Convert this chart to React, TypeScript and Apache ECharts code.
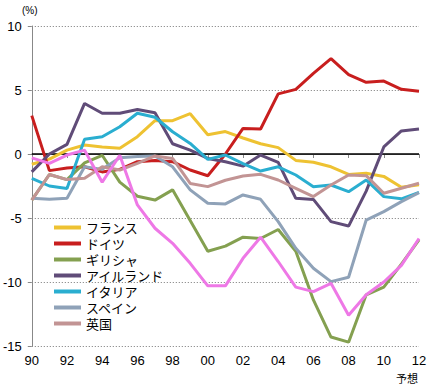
import React, { useEffect, useRef } from "react";
import * as echarts from "echarts";

const years = ["90","91","92","93","94","95","96","97","98","99","00","01","02","03","04","05","06","07","08","09","10","11","12"];

const france = [-0.8,-0.4,0.3,0.7,0.55,0.45,1.35,2.6,2.6,3.15,1.5,1.75,1.25,0.8,0.5,-0.5,-0.65,-1.0,-1.6,-1.5,-1.75,-2.6,-2.4];
const germany = [3.0,-1.3,-1.1,-1.0,-1.4,-1.2,-0.6,-0.5,-0.6,-1.25,-1.7,0.0,2.0,1.95,4.7,5.05,6.3,7.45,6.2,5.6,5.7,5.05,4.9];
const greece = [-3.6,-1.6,-2.0,-0.7,-0.1,-2.2,-3.3,-3.6,-2.8,-5.2,-7.6,-7.2,-6.5,-6.6,-5.9,-7.6,-11.4,-14.3,-14.7,-11.0,-10.4,-8.6,-6.7];
const ireland = [-1.4,0.0,0.75,3.95,3.18,3.18,3.48,3.23,0.8,0.3,-0.35,-0.6,-0.95,-0.08,-0.65,-3.46,-3.55,-5.28,-5.63,-2.9,0.55,1.8,1.95];
const italy = [-1.9,-2.5,-2.7,1.15,1.35,2.13,3.18,2.87,1.74,0.83,-0.42,-0.08,-0.75,-1.33,-1.0,-1.64,-2.55,-2.42,-2.94,-2.03,-3.33,-3.5,-3.0];
const spain = [-3.46,-3.54,-3.46,-1.0,-1.2,-0.3,-0.2,-0.16,-1.0,-2.8,-3.85,-3.9,-3.2,-3.54,-5.28,-7.37,-8.93,-9.97,-9.63,-5.16,-4.5,-3.72,-3.02];
const uk = [-3.6,-1.6,-2.0,-1.9,-1.0,-1.25,-0.73,-0.15,-0.35,-2.3,-2.55,-2.05,-1.72,-1.59,-2.03,-2.68,-3.33,-2.42,-1.64,-1.69,-3.07,-2.68,-2.29];
const portugal = [-0.3,-0.73,-0.08,0.3,-2.2,-0.1,-3.98,-5.8,-6.98,-8.54,-10.3,-10.3,-8.15,-6.5,-8.4,-10.4,-10.75,-10.1,-12.6,-11.0,-10.0,-8.7,-6.6];

const yTicks = { min: -15, max: 10, interval: 5 };

const seriesDefs = [
  { name: "フランス", data: france, color: "#EEC232" },
  { name: "ドイツ", data: germany, color: "#C81E1E" },
  { name: "ギリシャ", data: greece, color: "#84A050" },
  { name: "アイルランド", data: ireland, color: "#604C78" },
  { name: "イタリア", data: italy, color: "#2AAED0" },
  { name: "スペイン", data: spain, color: "#8FA2B8" },
  { name: "英国", data: uk, color: "#C29494" },
  { name: "ポルトガル", data: portugal, color: "#EE78E6" },
];
const legendNames = ["フランス","ドイツ","ギリシャ","アイルランド","イタリア","スペイン","英国"];

export default function App() {
  const ref = useRef<HTMLDivElement>(null);
  useEffect(() => {
    if (!ref.current) return;
    const chart = echarts.init(ref.current, null, { renderer: "svg" });
    const series: any[] = seriesDefs.map((s, i) => ({
      name: s.name,
      type: "line",
      data: s.data,
      symbol: "none",
      color: s.color,
      lineStyle: { width: 3, color: s.color },
      z: 3 + i,
      ...(i === 0
        ? {
            markLine: {
              silent: true,
              symbol: "none",
              label: { show: false },
              lineStyle: { color: "#000", width: 1.5, type: "solid" },
              data: [{ yAxis: 0 }],
              z: 1,
            },
          }
        : {}),
    }));
    chart.setOption({
      animation: false,
      grid: { left: 29, right: 12, top: 26, bottom: 40 },
      legend: {
        data: legendNames,
        orient: "vertical",
        left: 54,
        top: 221,
        padding: 0,
        icon: "rect",
        itemWidth: 27,
        itemHeight: 4,
        itemGap: 3,
        textStyle: { fontSize: 13, lineHeight: 13, color: "#000", fontFamily: "Noto Sans CJK JP" },
      },
      xAxis: {
        type: "category",
        data: years,
        boundaryGap: false,
        axisLine: { lineStyle: { color: "#888", width: 1 } },
        axisTick: { show: true, interval: 1, length: 4, lineStyle: { color: "#888" } },
        axisLabel: { interval: 1, fontSize: 13, color: "#000", margin: 8, fontFamily: "Liberation Sans" },
        splitLine: { show: false },
      },
      yAxis: {
        type: "value",
        min: yTicks.min,
        max: yTicks.max,
        interval: yTicks.interval,
        axisLine: { show: true, lineStyle: { color: "#888", width: 1 } },
        axisTick: { show: true, length: 4, lineStyle: { color: "#888" } },
        axisLabel: { fontSize: 13, color: "#000", margin: 10, fontFamily: "Liberation Sans" },
        splitLine: { show: true, lineStyle: { color: "#777", width: 1, type: [1, 2] } },
      },
      graphic: [
        { type: "text", left: 22, top: 5, style: { text: "(%)", fontSize: 10, fill: "#000", fontFamily: "Liberation Sans" } },
        { type: "text", left: 396, top: 372, style: { text: "予想", fontSize: 11, fill: "#000", fontFamily: "Noto Sans CJK JP" } },
      ],
      series,
    });
    return () => chart.dispose();
  }, []);
  return <div ref={ref} style={{ width: 431, height: 386, position: "absolute", left: 0, top: 0 }} />;
}
